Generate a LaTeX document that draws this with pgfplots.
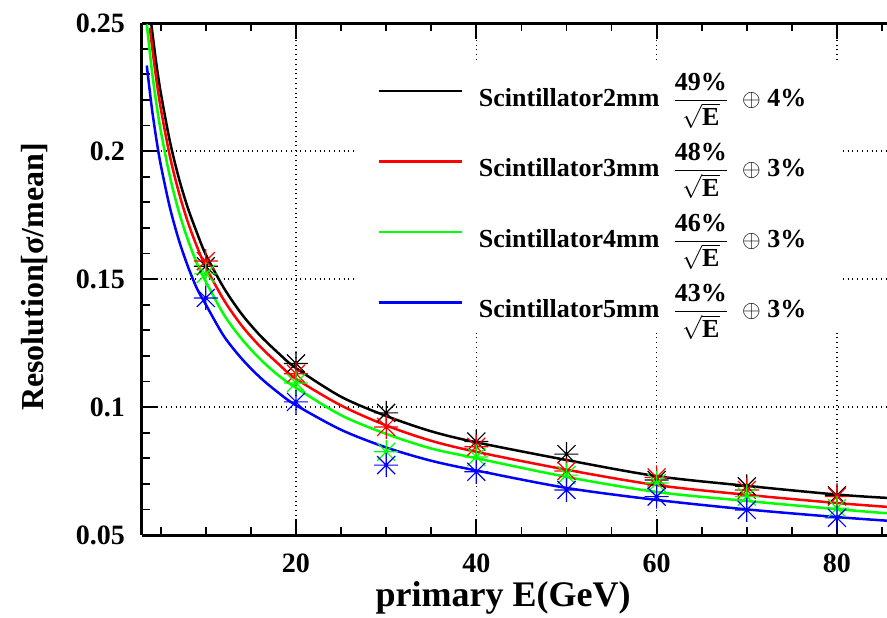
\documentclass[border=0pt]{standalone}
\usepackage{fontspec}
\setmainfont{Liberation Serif}
\usepackage{pgfplots}
\pgfplotsset{compat=1.18}
\pgfdeclareplotmark{rootstar}{%
  \pgfpathmoveto{\pgfqpoint{-\pgfplotmarksize}{0pt}}\pgfpathlineto{\pgfqpoint{\pgfplotmarksize}{0pt}}%
  \pgfpathmoveto{\pgfqpoint{0pt}{-\pgfplotmarksize}}\pgfpathlineto{\pgfqpoint{0pt}{\pgfplotmarksize}}%
  \pgfpathmoveto{\pgfqpoint{-0.75\pgfplotmarksize}{-0.75\pgfplotmarksize}}\pgfpathlineto{\pgfqpoint{0.75\pgfplotmarksize}{0.75\pgfplotmarksize}}%
  \pgfpathmoveto{\pgfqpoint{-0.75\pgfplotmarksize}{0.75\pgfplotmarksize}}\pgfpathlineto{\pgfqpoint{0.75\pgfplotmarksize}{-0.75\pgfplotmarksize}}%
  \pgfusepathqstroke}
\newcommand{\ent}[3]{\textbf{Scintillator#1}\ \ $\displaystyle\frac{\mbox{\bfseries #2\%}}{\sqrt{\mbox{\bfseries E}}}$\ \ $\oplus$\ \textbf{#3\%}}
\begin{document}
\begin{tikzpicture}
\begin{axis}[
  scale only axis, width=372.5pt, height=256pt,
  xmin=2.92, xmax=85.55, ymin=0.05, ymax=0.25,
  axis x line=box, axis y line=left,
  axis line style={line width=1.5pt, -},
  every outer y axis line/.append style={-},
  every inner y axis line/.append style={-},
  xtick={20,40,60,80},
  minor xtick={5,10,15,25,30,35,45,50,55,65,70,75,85},
  ytick={0.05,0.1,0.15,0.2,0.25},
  yticklabels={0.05,0.1,0.15,0.2,0.25},
  minor ytick={0.06,0.07,0.08,0.09,0.11,0.12,0.13,0.14,0.16,0.17,0.18,0.19,0.21,0.22,0.23,0.24},
  tick align=inside,
  major tick length=8pt, minor tick length=4pt,
  every tick/.style={black, line width=0.9pt},
  grid=major,
  major grid style={dotted, black, line width=0.6pt},
  /pgf/number format/assume math mode=true,
  tick label style={font=\fontsize{14}{17}\selectfont\bfseries},
  yticklabel style={xshift=-5pt},
  xticklabel style={yshift=-6pt},
  xlabel={\textbf{primary E(GeV)}},
  ylabel={\textbf{Resolution[σ/mean]}},
  xlabel style={font=\fontsize{18}{21}\selectfont, at={(axis description cs:0.4846,-0.123)}, anchor=center},
  ylabel style={font=\fontsize{16}{19}\selectfont, at={(axis description cs:-0.1436,0.504)}, anchor=center},
  legend cell align=left,
  legend image code/.code={\draw[#1, line width=1.25pt] (0pt,0pt) -- (41.5pt,0pt);},
  legend style={at={(axis description cs:0.2886,0.927)}, anchor=north west,
    draw=none, fill=white, inner xsep=10pt, inner ysep=4pt,
    font=\fontsize{13}{15}\selectfont, row sep=13pt,
    nodes={inner xsep=8pt}},
]
\addplot[black, line width=1.25pt, smooth] coordinates {
(3.9,0.2513)(4,0.2482)(4.5,0.2344)(5,0.2228)(6,0.2040)(7,0.1895)(8,0.1778)(9,0.1682)(10,0.1595)
(12,0.1465)(14,0.1362)(16,0.1280)(18,0.1212)(20,0.1152)(25,0.1040)(30,0.0965)(35,0.0905)
(40,0.0862)(50,0.0793)(60,0.0730)(70,0.0692)(80,0.0658)(85.55,0.0645)};
\addlegendentry{\ent{2mm}{49}{4}}
\addplot[red, line width=1.25pt, smooth] coordinates {
(3.8,0.2481)(4,0.2419)(4.5,0.2283)(5,0.2167)(6,0.1982)(7,0.1839)(8,0.1723)(9,0.1628)(10,0.1547)
(12,0.1418)(14,0.1317)(16,0.1237)(18,0.1170)(20,0.1110)(25,0.1006)(30,0.0928)(35,0.0868)
(40,0.0825)(50,0.0755)(60,0.0695)(70,0.0657)(80,0.0625)(85.55,0.0610)};
\addlegendentry{\ent{3mm}{48}{3}}
\addplot[green, line width=1.25pt, smooth] coordinates {
(3.45,0.2495)(4,0.2319)(4.5,0.2189)(5,0.2079)(6,0.1902)(7,0.1764)(8,0.1654)(9,0.1562)(10,0.1490)
(12,0.1361)(14,0.1265)(16,0.1188)(18,0.1125)(20,0.1075)(25,0.0968)(30,0.0895)(35,0.0838)
(40,0.0800)(50,0.0727)(60,0.0668)(70,0.0633)(80,0.0601)(85.55,0.0585)};
\addlegendentry{\ent{4mm}{46}{3}}
\addplot[blue, line width=1.25pt, smooth] coordinates {
(3.45,0.2334)(4,0.2171)(4.5,0.2049)(5,0.1946)(6,0.1781)(7,0.1653)(8,0.1550)(9,0.1464)(10,0.1400)
(12,0.1277)(14,0.1188)(16,0.1116)(18,0.1057)(20,0.1007)(25,0.0911)(30,0.0842)(35,0.0790)
(40,0.0752)(50,0.0684)(60,0.0637)(70,0.0600)(80,0.0570)(85.55,0.0556)};
\addlegendentry{\ent{5mm}{43}{3}}
\addplot[black, only marks, mark=rootstar, mark size=6pt, line width=0.6pt, forget plot] coordinates {
(10,0.155)(20,0.117)(30,0.0977)(40,0.0865)(50,0.0816)(60,0.0715)(70,0.069)(80,0.0655)};
\addplot[red, only marks, mark=rootstar, mark size=6pt, line width=0.6pt, forget plot] coordinates {
(10,0.157)(20,0.113)(30,0.0922)(40,0.0845)(50,0.075)(60,0.0725)(70,0.0676)(80,0.065)};
\addplot[green, only marks, mark=rootstar, mark size=6pt, line width=0.6pt, forget plot] coordinates {
(10,0.152)(20,0.1094)(30,0.0825)(40,0.0805)(50,0.0734)(60,0.0703)(70,0.065)(80,0.0605)};
\addplot[blue, only marks, mark=rootstar, mark size=6pt, line width=0.6pt, forget plot] coordinates {
(10,0.1426)(20,0.102)(30,0.0773)(40,0.0747)(50,0.0676)(60,0.065)(70,0.0598)(80,0.0567)};
\end{axis}
\pgfresetboundingbox
\path[use as bounding box] ([xshift=-71pt,yshift=-41pt]current axis.south west) rectangle ([yshift=11.5pt]current axis.north east);
\end{tikzpicture}
\end{document}
